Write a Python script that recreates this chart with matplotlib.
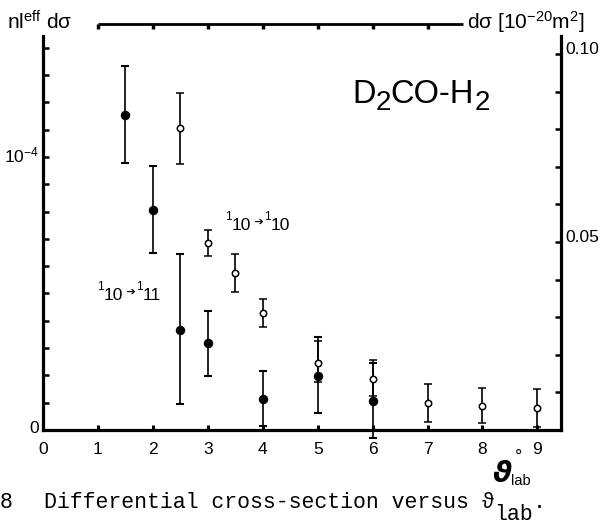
import numpy as np
import matplotlib
matplotlib.use("Agg")
import matplotlib.pyplot as plt
from matplotlib.transforms import ScaledTranslation

plt.rcParams["font.family"] = ["Liberation Sans", "DejaVu Sans"]
plt.rcParams["mathtext.fontset"] = "custom"
plt.rcParams["mathtext.rm"] = "Liberation Sans"
plt.rcParams["mathtext.default"] = "regular"

# values, left axis in units of 1e-5
X_FILLED = [1.5, 2, 2.5, 3, 4, 5, 6]
Y_FILLED = [11.54, 8.06, 3.66, 3.18, 1.12, 1.98, 1.06]
HI_FILLED = [13.34, 9.67, 6.45, 4.36, 2.17, 3.42, 2.47]
LO_FILLED = [9.77, 6.47, 0.95, 1.98, 0.15, 0.63, -0.28]

X_OPEN = [2.5, 3, 3.5, 4, 5, 6, 7, 8, 9]
Y_OPEN = [11.05, 6.86, 5.76, 4.27, 2.47, 1.87, 0.98, 0.88, 0.79]
HI_OPEN = [12.36, 7.33, 6.45, 4.79, 3.27, 2.56, 1.68, 1.55, 1.49]
LO_OPEN = [9.74, 6.39, 5.07, 3.78, 1.77, 1.25, 0.30, 0.25, 0.12]

X_TICKS = [0, 1, 2, 3, 4, 5, 6, 7, 8, 9]
LEFT_TICKS = list(range(15))          # x 1e-5
RIGHT_TICKS = [0.01, 0.02, 0.03, 0.04, 0.05, 0.06, 0.07, 0.08, 0.09, 0.10]
TOP_TICKS = [1, 2, 3, 4, 5, 6, 7]
UNIT = 1e-5

W, H = 603, 525


def fp(x, y):
    return x / W, 1 - y / H


fig = plt.figure(figsize=(W / 100, H / 100), dpi=100)
ax = fig.add_axes([43 / W, 1 - 430 / H, (560.5 - 43) / W, (430 - 36) / H])
ax.set_xlim(0, 9.42)
ax.set_ylim(0, 14.43 * UNIT)


def bars(x, y, lo, hi, **kw):
    y = np.array(y) * UNIT
    err = [y - np.array(lo) * UNIT, np.array(hi) * UNIT - y]
    c = ax.errorbar(x, y, yerr=err, fmt="o", color="black", ecolor="black",
                    elinewidth=1.2, capsize=3.2, capthick=1.5, zorder=3, **kw)
    for a in c.get_children():
        a.set_clip_on(False)


bars(X_FILLED, Y_FILLED, LO_FILLED, HI_FILLED, ms=5.8)
bars(X_OPEN, Y_OPEN, LO_OPEN, HI_OPEN, ms=4.6, mfc="white", mec="black", mew=1.1)

# frame: left, right, bottom only
for s in ("left", "right", "bottom"):
    ax.spines[s].set_linewidth(2.3)
ax.spines["top"].set_visible(False)
ax.spines["right"].set_visible(False)

ax.set_xticks(X_TICKS)
ax.set_xticklabels([str(t) for t in X_TICKS])
ax.tick_params(axis="x", direction="in", length=3.5, width=2.2, pad=9, labelsize=12.5)
ax.set_yticks([t * UNIT for t in LEFT_TICKS])
ax.set_yticklabels(["0" if t == 0 else ("$10^{-4}$" if t == 10 else "") for t in LEFT_TICKS])
ax.tick_params(axis="y", direction="in", length=4, width=1.8, pad=3, labelsize=12.5)

ax2 = ax.twinx()
ax2.set_ylim(0, 0.1048)
for s in ("left", "top", "bottom"):
    ax2.spines[s].set_visible(False)
ax2.spines["right"].set_linewidth(2.3)
ax2.set_yticks(RIGHT_TICKS)
ax2.set_yticklabels([f"{t:.2f}" if round(t * 100) % 5 == 0 else "" for t in RIGHT_TICKS])
ax2.tick_params(axis="y", direction="in", length=4, width=1.8, pad=3.5, labelsize=12.5)

up = ScaledTranslation(0, 4 / 72, fig.dpi_scale_trans)
for lab in ax2.get_yticklabels():
    lab.set_transform(lab.get_transform() + up)
up2 = ScaledTranslation(0, 2.5 / 72, fig.dpi_scale_trans)
for lab in ax.get_yticklabels():
    lab.set_transform(lab.get_transform() + up2)

# top scale line with ticks
ytop = (430 - 23.5) / (430 - 36)
ax.plot([TOP_TICKS[0], 7.64], [ytop, ytop], color="black", lw=2.0,
        transform=ax.get_xaxis_transform(), clip_on=False, solid_capstyle="butt")
ax.plot(TOP_TICKS, [ytop] * len(TOP_TICKS), ls="none", marker=3, ms=3.5, mew=2.5,
        color="black", transform=ax.get_xaxis_transform(), clip_on=False)

fig.text(*fp(7, 29), "nl$^{eff}$ d\u03c3", fontsize=15, va="baseline")
fig.text(*fp(467, 29), "d\u03c3 [10$^{-20}$m$^{2}$]", fontsize=15, va="baseline")


def chain(prev, base, s, size, dy=0, **kw):
    return ax.annotate(s, xy=(1, 0), xycoords=(prev, base), xytext=(0, dy),
                       textcoords="offset points", va="bottom", ha="left",
                       fontsize=size, annotation_clip=False, **kw)


# title
t0 = fig.text(*fp(352, 103), "D", fontsize=23.5, va="baseline")
t1 = chain(t0, t0, "2", 20, dy=-4.5)
t2 = chain(t1, t0, "CO-H", 23.5)
chain(t2, t0, "2", 20, dy=-4.5)


def level_label(x, y, upper, lower):
    b = fig.text(*fp(x, y), "10", fontsize=12.5, va="baseline")
    ax.annotate("1", xy=(0, 0), xycoords=b, xytext=(-0.3, 7.3),
                textcoords="offset points", ha="right", va="bottom",
                fontsize=8.5, annotation_clip=False)
    arr = chain(b, b, " \u2794", 8, dy=4.5, family=["DejaVu Sans"])
    one = chain(arr, b, "1", 8.5, dy=7.3)
    chain(one, b, lower, 12.5)


# curve labels
level_label(104, 300, "1", "11")
level_label(232, 230, "1", "10")

# axis label
fig.text(*fp(493, 482), "\u03d1", fontsize=21, fontweight="bold", style="italic",
         family=["DejaVu Sans"], va="baseline")
fig.text(*fp(515, 462), "\u00b0", fontsize=13, va="baseline")
fig.text(*fp(511, 485), "lab", fontsize=10.5, va="baseline")

# caption
mono = ["Liberation Mono", "DejaVu Sans Mono"]
fig.text(*fp(0, 508), "8", fontsize=15.5, family=mono, va="baseline", ha="left")
c0 = fig.text(*fp(44, 508), "Differential cross-section versus \u03d1", fontsize=15.5,
              family=mono, va="baseline")
c1 = chain(c0, c0, "lab", 15.5, dy=-9, family=mono)
chain(c1, c0, ".", 15.5, family=mono)

fig.savefig("out.png", dpi=100)
